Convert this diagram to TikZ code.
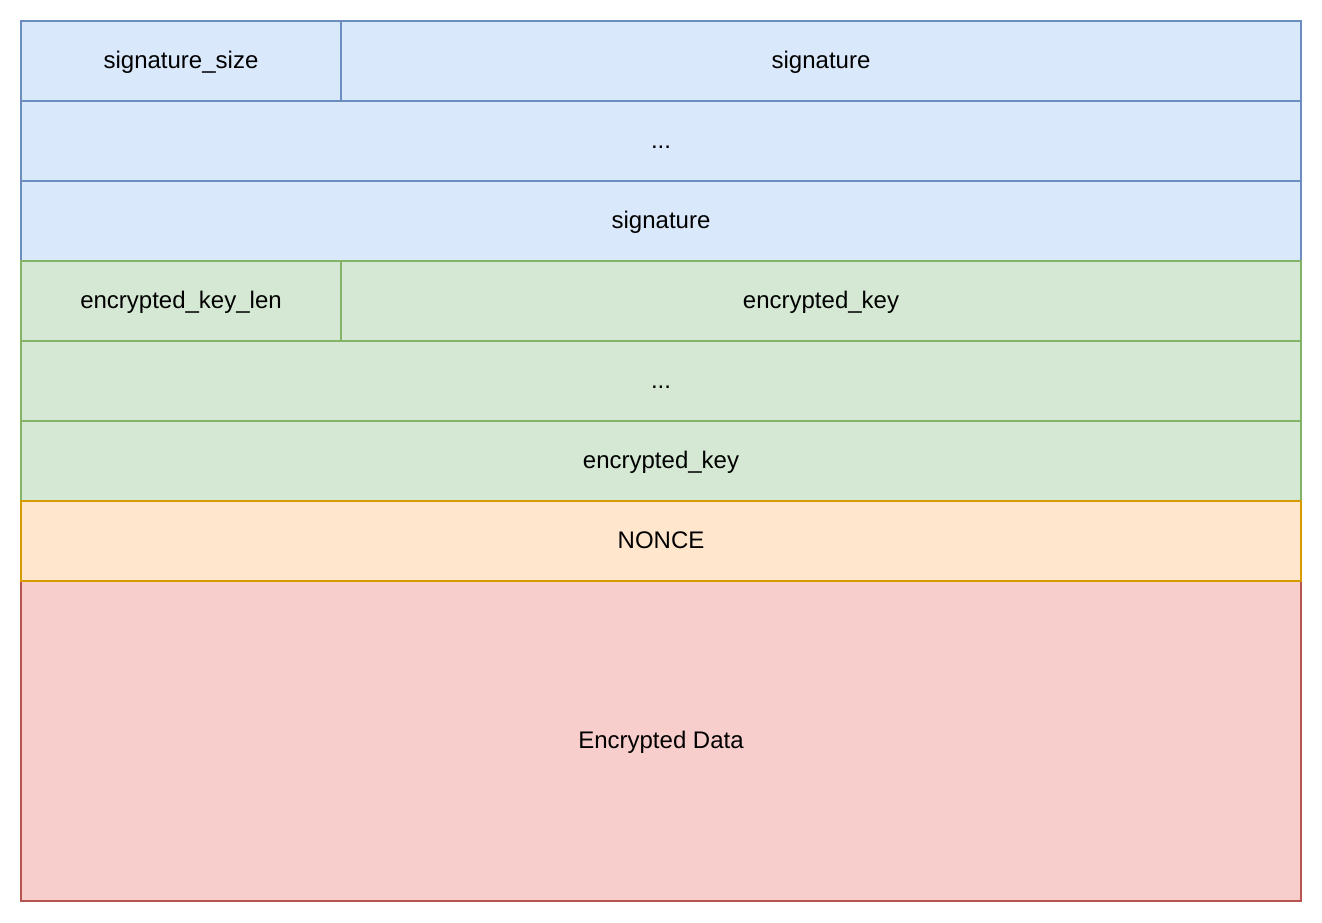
\documentclass[tikz,border=0pt]{standalone}
\usepackage{fontspec}
\setmainfont{Liberation Sans}
\usetikzlibrary{positioning}

\definecolor{sigfill}{HTML}{DAE8FC}
\definecolor{sigline}{HTML}{6C8EBF}
\definecolor{keyfill}{HTML}{D5E8D4}
\definecolor{keyline}{HTML}{82B366}
\definecolor{noncefill}{HTML}{FFE6CC}
\definecolor{nonceline}{HTML}{D79B00}
\definecolor{datafill}{HTML}{F8CECC}
\definecolor{dataline}{HTML}{B85450}

\begin{document}
\begin{tikzpicture} [x=1pt, y=-1pt, node distance=0pt,
        font=\fontsize{24}{28}\selectfont,
        field/.style={draw, line width=1.5pt, outer sep=0pt, inner sep=0pt, minimum height=80pt,
            text height=18pt, text depth=4pt},
        sigfield/.style={field, fill=sigfill, draw=sigline},
        keyfield/.style={field, fill=keyfill, draw=keyline},
        noncefield/.style={field, fill=noncefill, draw=nonceline},
        datafield/.style={field, fill=datafill, draw=dataline}]
        \useasboundingbox (0,0) rectangle (1322,922);

        \node (data) [datafield, minimum width=1280pt, minimum height=320pt] at (661,741) {Encrypted Data};

        \node (sigsize) [sigfield, minimum width=320pt] at (181,61) {signature\_size};
        \node (sigfirst) [sigfield, minimum width=960pt, right = of sigsize] {signature};
        \node (sigdots) [sigfield, minimum width=1280pt] at (661,141) {...};
        \node (siglast) [sigfield, minimum width=1280pt, below = of sigdots] {signature};

        \node (keylen) [keyfield, minimum width=320pt] at (181,301) {encrypted\_key\_len};
        \node (keyfirst) [keyfield, minimum width=960pt, right = of keylen] {encrypted\_key};
        \node (keydots) [keyfield, minimum width=1280pt] at (661,381) {...};
        \node (keylast) [keyfield, minimum width=1280pt, below = of keydots] {encrypted\_key};

        \node (nonce) [noncefield, minimum width=1280pt, above = of data] {NONCE};
    \end{tikzpicture}
\end{document}
